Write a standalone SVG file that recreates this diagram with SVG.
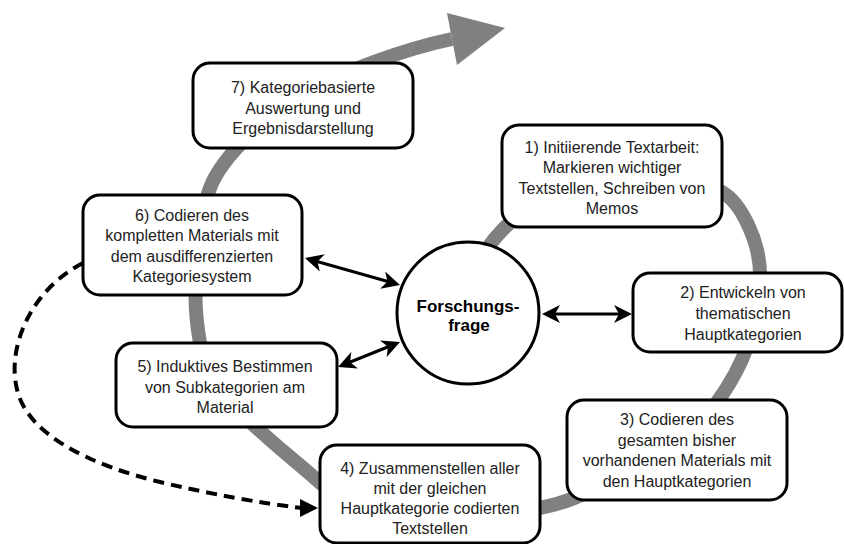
<svg xmlns="http://www.w3.org/2000/svg" width="844" height="544" viewBox="0 0 844 544">
<style>
.box{fill:#fff;stroke:#000;stroke-width:3}
.t{font-family:"Liberation Sans",Arial,sans-serif;font-size:16px;fill:#222;text-anchor:middle}
.tb{font-family:"Liberation Sans",Arial,sans-serif;font-size:17px;font-weight:bold;fill:#000;text-anchor:middle}
.spiral{fill:none;stroke:#808080;stroke-width:14}
.dbl{fill:none;stroke:#000;stroke-width:3;marker-start:url(#ms);marker-end:url(#me)}
.dash{fill:none;stroke:#000;stroke-width:4;stroke-dasharray:11 7}
</style>
<defs>
<marker id="me" markerUnits="userSpaceOnUse" markerWidth="18" markerHeight="18" refX="10" refY="9" orient="auto" viewBox="0 0 18 18">
<path d="M0,0 L18,9 L0,18 L5,9 z" fill="#000"/>
</marker>
<marker id="ms" markerUnits="userSpaceOnUse" markerWidth="18" markerHeight="18" refX="8" refY="9" orient="auto" viewBox="0 0 18 18">
<path d="M18,0 L0,9 L18,18 L13,9 z" fill="#000"/>
</marker>
</defs>
<g id="connectors">
<path class="spiral" d="M478,265 C510,195 630,140 722,192 C740,202 760,240 760,275 C760,320 745,365 715,405 C690,440 622,473 585,493 C525,525 365,525 318,481 C280,446 210,400 200,343 C198,332 194,305 196,275 C198,245 200,215 210,188 C222,156 270,110 320,85 C345,72 400,50 452,39"/>
<polygon points="447,13 505,28 457,65" fill="#808080"/>
<path class="dash" d="M83,263 C30,290 5,350 18,393 C30,435 90,465 160,482 C210,494 260,503 302,508"/>
<polygon points="300,499 318,508 300,517" fill="#000"/>
<line class="dbl" x1="312.7" y1="260.2" x2="392.3" y2="282.8"/>
<line class="dbl" x1="345.4" y1="364" x2="392.6" y2="345"/>
<line class="dbl" x1="550" y1="314" x2="624" y2="314"/>
</g>
<g id="node-center">
<circle cx="468" cy="313" r="71" fill="#fff" stroke="#000" stroke-width="3"/>
<text class="tb" x="468" y="312">Forschungs-</text>
<text class="tb" x="469" y="331">frage</text>
</g>
<g id="node-1">
<rect class="box" x="502" y="125" width="220" height="102" rx="17"/>
<text class="t" x="612" y="152.5">1) Initiierende Textarbeit:</text>
<text class="t" x="612" y="173">Markieren wichtiger</text>
<text class="t" x="612" y="193.5">Textstellen, Schreiben von</text>
<text class="t" x="612" y="214">Memos</text>
</g>
<g id="node-2">
<rect class="box" x="633" y="273" width="209" height="79" rx="17"/>
<text class="t" x="743" y="298">2) Entwickeln von</text>
<text class="t" x="743" y="319">thematischen</text>
<text class="t" x="743" y="339.5">Hauptkategorien</text>
</g>
<g id="node-3">
<rect class="box" x="567" y="400" width="220" height="100" rx="17"/>
<text class="t" x="677" y="425">3) Codieren des</text>
<text class="t" x="677" y="445.5">gesamten bisher</text>
<text class="t" x="677" y="466">vorhandenen Materials mit</text>
<text class="t" x="677" y="486.5">den Hauptkategorien</text>
</g>
<g id="node-4">
<rect class="box" x="320" y="445" width="220" height="98" rx="17"/>
<text class="t" x="430" y="474">4) Zusammenstellen aller</text>
<text class="t" x="430" y="494">mit der gleichen</text>
<text class="t" x="430" y="514">Hauptkategorie codierten</text>
<text class="t" x="430" y="534">Textstellen</text>
</g>
<g id="node-5">
<rect class="box" x="116" y="343" width="221" height="84" rx="17"/>
<text class="t" x="225" y="372">5) Induktives Bestimmen</text>
<text class="t" x="225" y="392.5">von Subkategorien am</text>
<text class="t" x="225" y="413">Material</text>
</g>
<g id="node-6">
<rect class="box" x="83" y="195" width="219" height="100" rx="17"/>
<text class="t" x="192" y="220.5">6) Codieren des</text>
<text class="t" x="192" y="241">kompletten Materials mit</text>
<text class="t" x="192" y="261.5">dem ausdifferenzierten</text>
<text class="t" x="192" y="282">Kategoriesystem</text>
</g>
<g id="node-7">
<rect class="box" x="193" y="63" width="220" height="85" rx="17"/>
<text class="t" x="303" y="93">7) Kategoriebasierte</text>
<text class="t" x="303" y="113.5">Auswertung und</text>
<text class="t" x="303" y="134">Ergebnisdarstellung</text>
</g>
</svg>
